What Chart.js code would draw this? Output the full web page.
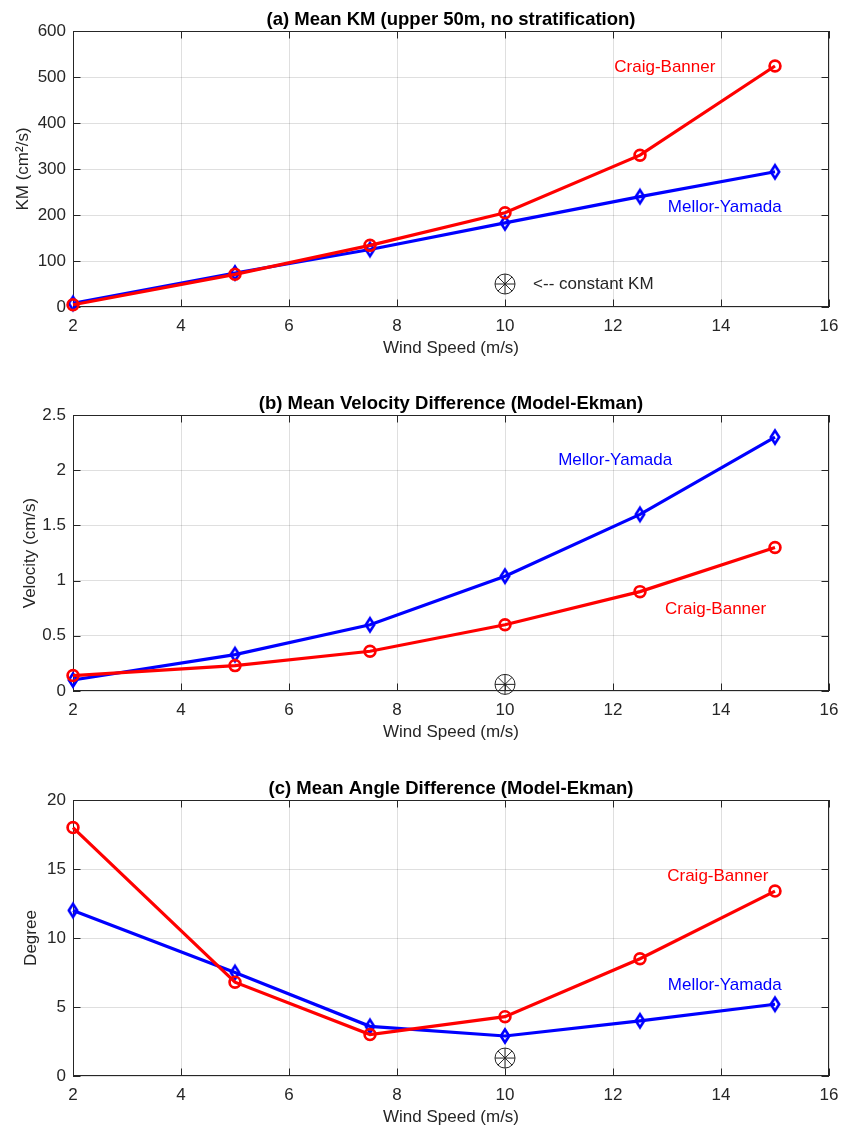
<!DOCTYPE html>
<html><head><meta charset="utf-8">
<script src="https://cdn.jsdelivr.net/npm/chart.js@4.4.0/dist/chart.umd.min.js"></script>
<style>
html,body{margin:0;padding:0;background:#fff;width:854px;height:1127px;overflow:hidden;position:relative;}
canvas{position:absolute;left:0;}
</style></head><body>
<canvas id="ca" width="854" height="359" style="top:0px"></canvas>
<canvas id="cb" width="854" height="359" style="top:384px"></canvas>
<canvas id="cc" width="854" height="359" style="top:769px"></canvas>
<script>
// ---------- data ----------
const windSpeed = [2, 5, 7.5, 10, 12.5, 15];

const kmCraigBanner   = [5, 71, 134, 205, 330, 524];
const kmMellorYamada  = [8, 74, 125, 183, 240, 294];

const velCraigBanner  = [0.14, 0.23, 0.36, 0.60, 0.90, 1.30];
const velMellorYamada = [0.10, 0.33, 0.60, 1.04, 1.60, 2.30];

const angCraigBanner  = [18.0, 6.8, 3.0, 4.3, 8.5, 13.4];
const angMellorYamada = [12.0, 7.5, 3.6, 2.9, 4.0, 5.2];

const constantWind = [10];
const kmConstant   = [50];
const velConstant  = [0.06];
const angConstant  = [1.3];

const xTicks = [2, 4, 6, 8, 10, 12, 14, 16];
const xTickLabels = ['2', '4', '6', '8', '10', '12', '14', '16'];
const kmTicks = [0, 100, 200, 300, 400, 500, 600];
const kmTickLabels = ['0', '100', '200', '300', '400', '500', '600'];
const velTicks = [0, 0.5, 1, 1.5, 2, 2.5];
const velTickLabels = ['0', '0.5', '1', '1.5', '2', '2.5'];
const angTicks = [0, 5, 10, 15, 20];
const angTickLabels = ['0', '5', '10', '15', '20'];

const titles = [
  '(a) Mean KM (upper 50m, no stratification)',
  '(b) Mean Velocity Difference (Model-Ekman)',
  '(c) Mean Angle Difference (Model-Ekman)'
];
const yLabels = ['KM (cm\u00B2/s)', 'Velocity (cm/s)', 'Degree'];
const xLabel = 'Wind Speed (m/s)';

// text annotations anchored in data coordinates
const notesA = [
  {text: 'Craig-Banner', x: 12.96, y: 520, color: '#ff0000', align: 'center'},
  {text: 'Mellor-Yamada', x: 14.07, y: 217, color: '#0000ff', align: 'center'},
  {text: '<-- constant KM', x: 10.52, y: 50, color: '#262626', align: 'left'}
];
const notesB = [
  {text: 'Mellor-Yamada', x: 12.04, y: 2.09, color: '#0000ff', align: 'center'},
  {text: 'Craig-Banner', x: 13.9, y: 0.744, color: '#ff0000', align: 'center'}
];
const notesC = [
  {text: 'Craig-Banner', x: 13.94, y: 14.49, color: '#ff0000', align: 'center'},
  {text: 'Mellor-Yamada', x: 14.07, y: 6.54, color: '#0000ff', align: 'center'}
];

// ---------- styling ----------
const FONT = '"Liberation Sans", Arial, Helvetica, sans-serif';
Chart.defaults.font.family = FONT;
const AXIS_COLOR = '#262626';
const RED = '#ff0000', BLUE = '#0000ff';

function makeDiamond(color) {
  const c = document.createElement('canvas');
  c.width = 18; c.height = 24;
  const g = c.getContext('2d');
  g.strokeStyle = color; g.lineWidth = 2.6; g.lineJoin = 'miter';
  g.beginPath();
  g.moveTo(9, 12 - 6.5); g.lineTo(9 + 4.2, 12); g.lineTo(9, 12 + 6.5); g.lineTo(9 - 4.2, 12);
  g.closePath(); g.stroke();
  return c;
}
const diamondBlue = makeDiamond(BLUE);

const matlabAxes = {
  id: 'matlabAxes',
  beforeDatasetsDraw(chart) {
    const {ctx, chartArea: a, scales: {x, y}} = chart;
    const L = 7.5;
    ctx.save();
    ctx.strokeStyle = AXIS_COLOR; ctx.lineWidth = 1;
    ctx.beginPath();
    x.ticks.forEach(t => {
      const px = Math.round(x.getPixelForValue(t.value)) + 0.5;
      ctx.moveTo(px, a.bottom); ctx.lineTo(px, a.bottom - L);
      ctx.moveTo(px, a.top); ctx.lineTo(px, a.top + L);
    });
    y.ticks.forEach(t => {
      const py = Math.round(y.getPixelForValue(t.value)) + 0.5;
      ctx.moveTo(a.left, py); ctx.lineTo(a.left + L, py);
      ctx.moveTo(a.right, py); ctx.lineTo(a.right - L, py);
    });
    ctx.stroke();
    ctx.strokeRect(a.left + 0.5, a.top + 0.5, a.right - a.left - 1, a.bottom - a.top - 1);
    ctx.restore();
  },
  afterDatasetsDraw(chart) {
    const opts = chart.options.plugins.matlabAxes;
    const notes = opts.notes || [];
    const {ctx, chartArea: a, scales: {x, y}} = chart;
    ctx.save();
    ctx.font = 'bold 18.5px ' + FONT;
    ctx.fillStyle = '#000';
    ctx.textAlign = 'center';
    ctx.textBaseline = 'middle';
    ctx.fillText(opts.title, (a.left + a.right) / 2, a.top - 11);
    ctx.font = '17px ' + FONT;
    notes.forEach(n => {
      ctx.fillStyle = n.color;
      ctx.textAlign = n.align;
      ctx.fillText(n.text, x.getPixelForValue(n.x), y.getPixelForValue(n.y));
    });
    ctx.restore();
  }
};

function pts(xs, ys) { return xs.map((v, i) => ({x: v, y: ys[i]})); }

function makeChart(id, title, yLabel, yTitlePad, cb, my, constY, yTicks, yTickLabels, yMax, notes) {
  const setTicks = (vals) => (scale) => { scale.ticks = vals.map(v => ({value: v})); };
  return new Chart(document.getElementById(id), {
    type: 'line',
    data: {
      datasets: [
        {data: pts(windSpeed, cb), borderColor: RED, borderWidth: 3.2, pointStyle: 'circle', pointRadius: 5.4,
         pointBorderWidth: 2.7, pointBorderColor: RED, pointBackgroundColor: 'rgba(0,0,0,0)', order: 0, clip: false},
        {data: pts(windSpeed, my), borderColor: BLUE, borderWidth: 3.2, pointStyle: diamondBlue, pointRadius: 6,
         pointBorderColor: BLUE, pointBackgroundColor: 'rgba(0,0,0,0)', order: 1, clip: false},
        {data: pts(constantWind, constY), showLine: false, pointStyle: 'circle', pointRadius: 10, pointBorderWidth: 1,
         pointBorderColor: AXIS_COLOR, pointBackgroundColor: 'rgba(0,0,0,0)', order: 2, clip: false},
        {data: pts(constantWind, constY), showLine: false, pointStyle: 'star', pointRadius: 10, pointBorderWidth: 1,
         pointBorderColor: AXIS_COLOR, pointBackgroundColor: 'rgba(0,0,0,0)', order: 2, clip: false},
        {data: pts(constantWind, constY), showLine: false, pointStyle: 'circle', pointRadius: 1.2, pointBorderWidth: 0,
         pointBackgroundColor: '#000', order: 2, clip: false}
      ]
    },
    options: {
      responsive: false,
      animation: false,
      events: [],
      layout: {padding: {left: 0, right: 25, top: 31, bottom: 0}},
      plugins: {
        legend: {display: false},
        tooltip: {enabled: false},
        title: {display: false},
        matlabAxes: {notes: notes, title: title}
      },
      scales: {
        x: {
          type: 'linear', min: 2, max: 16,
          afterBuildTicks: setTicks(xTicks),
          afterFit: (s) => { s.height = 52; },
          grid: {color: 'rgba(38,38,38,0.15)', lineWidth: 1, drawTicks: false},
          border: {display: false},
          ticks: {color: AXIS_COLOR, font: {size: 17, lineHeight: 1.2}, padding: 9, maxRotation: 0,
                  autoSkip: false, callback: (v, i) => xTickLabels[i]},
          title: {display: true, text: xLabel, color: AXIS_COLOR, font: {size: 17, lineHeight: 1.2},
                  padding: {top: 0, bottom: 0}}
        },
        y: {
          type: 'linear', min: 0, max: yMax,
          afterBuildTicks: setTicks(yTicks),
          afterFit: (s) => { s.width = 73; },
          grid: {color: 'rgba(38,38,38,0.15)', lineWidth: 1, drawTicks: false},
          border: {display: false},
          ticks: {color: AXIS_COLOR, font: {size: 17, lineHeight: 1.2}, padding: 7,
                  autoSkip: false, callback: (v, i) => yTickLabels[i]},
          title: {display: true, text: yLabel, color: AXIS_COLOR, font: {size: 17, lineHeight: 1.2},
                  padding: {top: yTitlePad, bottom: 0}}
        }
      }
    },
    plugins: [matlabAxes]
  });
}

makeChart('ca', titles[0], yLabels[0], 13.5, kmCraigBanner, kmMellorYamada, kmConstant, kmTicks, kmTickLabels, 600, notesA);
makeChart('cb', titles[1], yLabels[1], 19.8, velCraigBanner, velMellorYamada, velConstant, velTicks, velTickLabels, 2.5, notesB);
makeChart('cc', titles[2], yLabels[2], 21.5, angCraigBanner, angMellorYamada, angConstant, angTicks, angTickLabels, 20, notesC);
</script>
</body></html>
